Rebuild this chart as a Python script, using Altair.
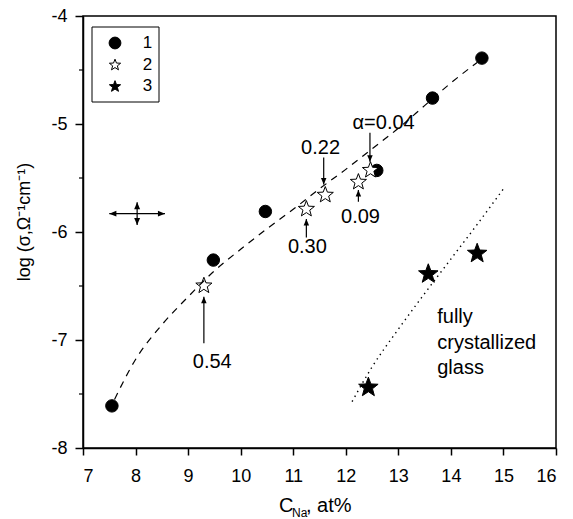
import altair as alt
import pandas as pd

# Series 1: filled circles
s1_x = [7.55, 9.48, 10.47, 12.59, 13.65, 14.59]
s1_y = [-7.61, -6.26, -5.81, -5.43, -4.76, -4.39]
# Series 2: open stars, labelled with alpha
s2_x = [9.30, 11.25, 11.61, 12.24, 12.47]
s2_y = [-6.49, -5.78, -5.65, -5.53, -5.42]
s2_labels = ["0.54", "0.30", "0.22", "0.09", "α=0.04"]
# Series 3: filled stars (fully crystallized glass)
s3_x = [12.43, 13.57, 14.50]
s3_y = [-7.43, -6.38, -6.19]

# Guide curves
fit1_x = [7.6, 8.0, 8.5, 9.0, 9.5, 10.0, 10.5, 11.0, 11.5, 12.0, 12.5, 13.0, 13.5, 14.0, 14.5]
fit1_y = [-7.55, -7.18, -6.86, -6.60, -6.36, -6.16, -5.97, -5.79, -5.60, -5.42, -5.23, -5.04, -4.83, -4.62, -4.43]
fit3_x = [12.12, 12.5, 13.0, 13.5, 14.0, 14.5, 15.0]
fit3_y = [-7.57, -7.25, -6.90, -6.57, -6.25, -5.93, -5.60]

# Label arrows for series 2: x, arrow tail, arrow head, label position
arr_x = [9.30, 11.25, 11.58, 12.24, 12.46]
arr_tail = [-7.03, -6.05, -5.31, -5.72, -5.08]
arr_head = [-6.60, -5.88, -5.56, -5.61, -5.35]
lab_x = [9.46, 11.27, 11.52, 12.28, 12.72]
lab_y = [-7.20, -6.14, -5.22, -5.86, -4.99]

# Error cross
err_x, err_y = 8.03, -5.83
err_dx, err_dy = 0.53, 0.105

x_ticks = list(range(7, 17))
y_ticks = [-8, -7, -6, -5, -4]
y_minor = [-7.5, -6.5, -5.5, -4.5]

series_dom = ["1", "2", "3"]

FONT = "Liberation Sans"
STAR = ("M0,-0.905L0.247,-0.245L0.951,-0.214L0.399,0.225L0.588,0.904"
        "L0,0.515L-0.588,0.904L-0.399,0.225L-0.951,-0.214L-0.247,-0.245Z")
HEAD = "M0,0L-1,-0.42L-1,0.42Z"

pts = pd.DataFrame({
    "x": s1_x + s2_x + s3_x,
    "y": s1_y + s2_y + s3_y,
    "series": ["1"] * len(s1_x) + ["2"] * len(s2_x) + ["3"] * len(s3_x),
})

xs = alt.Scale(domain=[7, 16], nice=False, zero=False)
ys = alt.Scale(domain=[-8, -4], nice=False, zero=False)
shape_scale = alt.Scale(domain=series_dom, range=["circle", STAR, STAR])
fill_scale = alt.Scale(domain=series_dom, range=["black", "white", "black"])

x_axis = alt.Axis(values=x_ticks, title=None, grid=False, tickSize=7, labelPadding=12,
                  labelFontSize=18, labelFont=FONT, labelColor="black",
                  domainColor="black", tickColor="black", domainWidth=1.5, tickWidth=1.5)
y_axis = alt.Axis(values=y_ticks, title=None, grid=False, tickSize=8, labelPadding=8,
                  labelExpr="'-' + (-datum.value)",
                  labelFontSize=18, labelFont=FONT, labelColor="black",
                  domainColor="black", tickColor="black", domainWidth=1.5, tickWidth=1.5)

# Data points
points = alt.Chart(pts).mark_point(filled=True, stroke="black", strokeWidth=1, opacity=1).encode(
    x=alt.X("x:Q", scale=xs, axis=x_axis),
    y=alt.Y("y:Q", scale=ys, axis=y_axis),
    shape=alt.Shape("series:N", scale=shape_scale, legend=None),
    fill=alt.Fill("series:N", scale=fill_scale, legend=None),
    size=alt.Size("series:N", scale=alt.Scale(domain=series_dom, range=[155, 420, 440]), legend=None),
)

dashed = alt.Chart(pd.DataFrame({"x": fit1_x, "y": fit1_y})).mark_line(
    color="black", strokeWidth=1.2, strokeDash=[7, 6], interpolate="monotone"
).encode(x="x:Q", y="y:Q")

dotted = alt.Chart(pd.DataFrame({"x": fit3_x, "y": fit3_y})).mark_line(
    color="black", strokeWidth=1.4, strokeDash=[1.4, 4], interpolate="monotone"
).encode(x="x:Q", y="y:Q")

arrows = pd.DataFrame({"x": arr_x, "y": arr_tail, "y2": arr_head,
                       "angle": [270 if h > t else 90 for t, h in zip(arr_tail, arr_head)]})
arrow_lines = alt.Chart(arrows).mark_rule(color="black", strokeWidth=1.2).encode(
    x="x:Q", y="y:Q", y2="y2:Q")
arrow_heads = alt.Chart(arrows).mark_point(shape=HEAD, filled=True, color="black", size=170, opacity=1).encode(
    x="x:Q", y="y2:Q", angle=alt.Angle("angle:Q", scale=None))

labels = alt.Chart(pd.DataFrame({"x": lab_x, "y": lab_y, "t": s2_labels})).mark_text(
    font=FONT, fontSize=20, color="black").encode(x="x:Q", y="y:Q", text="t:N")

glass = alt.Chart(pd.DataFrame({"x": [13.74] * 3, "y": [-6.79, -7.03, -7.26],
                                "t": ["fully", "crystallized", "glass"]})).mark_text(
    font=FONT, fontSize=20, color="black", align="left").encode(x="x:Q", y="y:Q", text="t:N")

cross = pd.DataFrame({
    "x": [err_x - err_dx, err_x], "x2": [err_x + err_dx, err_x],
    "y": [err_y, err_y - err_dy], "y2": [err_y, err_y + err_dy],
})
cross_lines = alt.Chart(cross).mark_rule(color="black", strokeWidth=1.2).encode(
    x="x:Q", x2="x2:Q", y="y:Q", y2="y2:Q")
cross_heads = alt.Chart(pd.DataFrame({
    "x": [err_x - err_dx, err_x + err_dx, err_x, err_x],
    "y": [err_y, err_y, err_y + err_dy, err_y - err_dy],
    "angle": [180, 0, 270, 90],
})).mark_point(shape=HEAD, filled=True, color="black", size=200, opacity=1).encode(
    x="x:Q", y="y:Q", angle=alt.Angle("angle:Q", scale=None))

minor = alt.Chart(pd.DataFrame({"y": y_minor})).mark_rule(color="black", strokeWidth=1.2).encode(
    y="y:Q", x=alt.value(-4), x2=alt.value(0))

# Legend box in the upper-left corner, one row per series
leg = pd.DataFrame({"series": series_dom, "row_y": [27, 48.5, 70]})
leg_box = alt.Chart(pd.DataFrame({"a": [0]})).mark_rect(
    fill="white", stroke="black", strokeWidth=1
).encode(x=alt.value(9), x2=alt.value(76), y=alt.value(11), y2=alt.value(86))
leg_sym = alt.Chart(leg).mark_point(filled=True, stroke="black", strokeWidth=1, opacity=1, size=140).encode(
    x=alt.value(32),
    y=alt.Y("row_y:Q", scale=None),
    shape=alt.Shape("series:N", scale=shape_scale, legend=None),
    fill=alt.Fill("series:N", scale=fill_scale, legend=None),
)
leg_lab = alt.Chart(leg).mark_text(font=FONT, fontSize=17, color="black").encode(
    x=alt.value(64.5), y=alt.Y("row_y:Q", scale=None), text="series:N")

# Axis titles drawn as text so that the sub/superscripts can be set
ytitle = alt.Chart(pd.DataFrame({"t": ["log (σ,Ω⁻¹cm⁻¹)"]})).mark_text(
    font=FONT, fontSize=18, color="black", angle=270).encode(
    x=alt.value(-58), y=alt.value(206), text="t:N")


def title_piece(text, px, py, fs):
    return alt.Chart(pd.DataFrame({"t": [text]})).mark_text(
        font=FONT, fontSize=fs, color="black", align="left", baseline="alphabetic"
    ).encode(x=alt.value(px), y=alt.value(py), text="t:N")


xtitle = [title_piece("C", 196, 496, 20), title_piece("Na", 209, 501, 12),
          title_piece(", at%", 223, 496, 20)]

chart = alt.layer(
    points, dashed, dotted, minor, cross_lines, cross_heads, arrow_lines, arrow_heads,
    labels, glass, leg_box, leg_sym, leg_lab, ytitle, *xtitle
).properties(
    width=473, height=432,
    autosize=alt.AutoSizeParams(type="none"),
    padding={"left": 83, "top": 16, "right": 17, "bottom": 71},
).configure_view(
    stroke="black", strokeWidth=1.5
)

chart.save("out.html", embed_options={"renderer": "svg", "actions": False})
